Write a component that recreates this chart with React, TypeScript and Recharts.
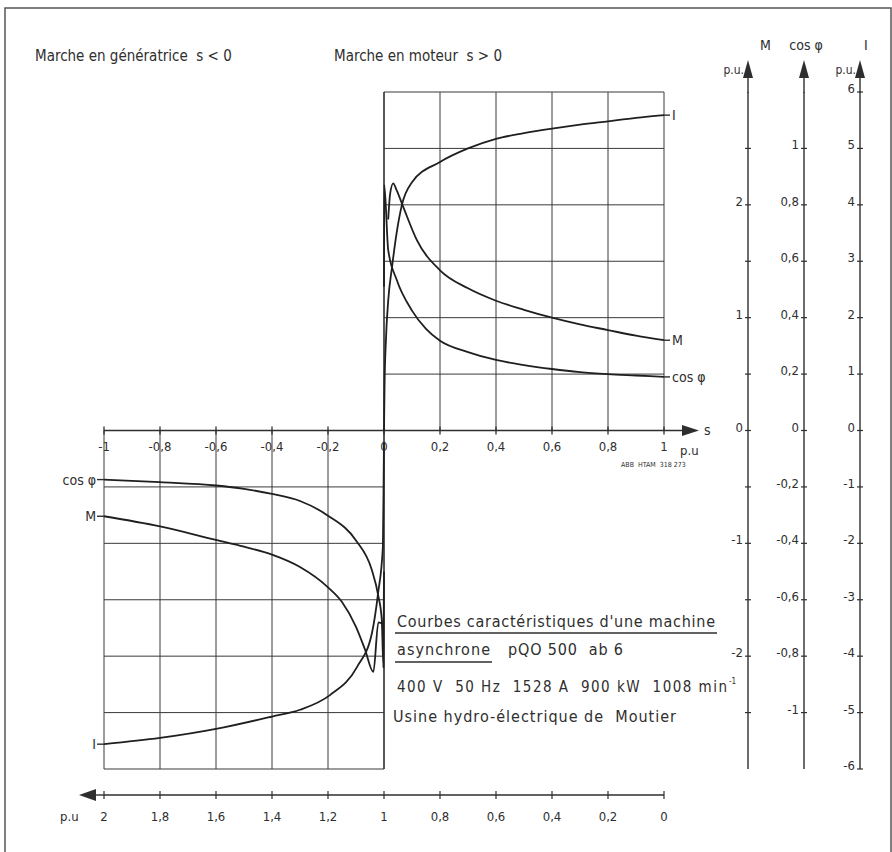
import React from "react";
import { LineChart, Line, XAxis, YAxis, ReferenceLine } from "recharts";

const FONT = "DejaVu Sans Condensed, Liberation Sans Narrow, DejaVu Sans, sans-serif";
const INK = "#2e2e2e";

// tick values
const sTicks = [-1, -0.8, -0.6, -0.4, -0.2, 0, 0.2, 0.4, 0.6, 0.8, 1];
const mTicks = [2.5, 2, 1.5, 1, 0.5, 0, -0.5, -1, -1.5, -2, -2.5];
const cosTicks = [1, 0.8, 0.6, 0.4, 0.2, 0, -0.2, -0.4, -0.6, -0.8, -1];
const iTicks = [6, 5, 4, 3, 2, 1, 0, -1, -2, -3, -4, -5, -6];

// grid
const upperCols = [0.2, 0.4, 0.6, 0.8, 1];
const lowerCols = [-1, -0.8, -0.6, -0.4, -0.2];
const upperRows = [1, 2, 3, 4, 5, 6];
const lowerRows = [-1, -2, -3, -4, -5, -6];

// moteur, s > 0   [s, value]
const motorI = [
  [0, 0], [0.002, 0.8], [0.007, 1.62], [0.015, 2.3], [0.029, 2.91], [0.045, 3.5],
  [0.064, 4.0], [0.1, 4.4], [0.2, 4.76], [0.3, 5.0], [0.4, 5.17], [0.5, 5.27],
  [0.6, 5.35], [0.7, 5.42], [0.8, 5.48], [0.9, 5.54], [1, 5.59],
];
const motorM = [
  [0.015, 1.87], [0.022, 2.1], [0.033, 2.19], [0.045, 2.13], [0.069, 1.98],
  [0.117, 1.69], [0.2, 1.42], [0.3, 1.26], [0.4, 1.15], [0.5, 1.07], [0.6, 1.0],
  [0.7, 0.94], [0.8, 0.89], [0.9, 0.84], [1, 0.8],
];
const motorCos = [
  [0, 0.51], [0.001, 0.87], [0.015, 0.64], [0.045, 0.535], [0.1, 0.425], [0.15, 0.36],
  [0.2, 0.318], [0.3, 0.278], [0.4, 0.25], [0.5, 0.232], [0.6, 0.218], [0.7, 0.207],
  [0.8, 0.2], [0.9, 0.195], [1, 0.19],
];

// génératrice, s < 0
const genCos = [
  [-1, -0.174], [-0.8, -0.183], [-0.6, -0.195], [-0.5, -0.207], [-0.4, -0.225],
  [-0.3, -0.25], [-0.2, -0.302], [-0.1, -0.39], [-0.044, -0.493], [-0.02, -0.588],
  [-0.008, -0.67], [-0.002, -0.84], [0, -0.5],
];
const genM = [
  [-1, -0.76], [-0.8, -0.85], [-0.6, -0.97], [-0.5, -1.03], [-0.4, -1.1], [-0.3, -1.21],
  [-0.2, -1.39], [-0.15, -1.52], [-0.1, -1.74], [-0.068, -1.94], [-0.038, -2.14],
  [-0.02, -1.7], [-0.008, -1.71],
];
const genI = [
  [-1, -5.56], [-0.8, -5.45], [-0.6, -5.29], [-0.4, -5.07], [-0.3, -4.95], [-0.193, -4.69],
  [-0.096, -4.19], [-0.043, -3.59], [-0.021, -2.88], [-0.004, -2.06], [-0.001, -0.7], [0, -0.2],
];

const toRows = (arr: number[][]) => arr.map(([s, v]) => ({ s, v }));

const fmt = (v: number) => String(Math.round(v * 100) / 100).replace(".", ",");

function RightTick(props: any) {
  const { x, y, payload, show } = props;
  const v = payload.value;
  return (
    <g>
      <line x1={x - 3} x2={x + 3} y1={y} y2={y} stroke={INK} strokeWidth={1.2} />
      {show(v) && (
        <text x={x - 5} y={y + 1} textAnchor="end" fontSize={13} fontFamily={FONT} fill={INK}>
          {fmt(v)}
        </text>
      )}
    </g>
  );
}

function SpeedTick(props: any) {
  const { x, y, payload } = props;
  return (
    <g>
      <line x1={x} x2={x} y1={y - 4} y2={y + 4} stroke={INK} strokeWidth={1.2} />
      <text x={x} y={y + 26} textAnchor="middle" fontSize={13} fontFamily={FONT} fill={INK}>
        {fmt(1 - payload.value)}
      </text>
    </g>
  );
}

const curveLabel = (text: string, at: number, side: "left" | "right") => (p: any) => {
  if (p.index !== at) return <g />;
  const { x, y } = p;
  if (side === "right") {
    return (
      <g>
        <line x1={x} x2={x + 6} y1={y} y2={y} stroke={INK} strokeWidth={1.4} />
        <text x={x + 8} y={y + 5} fontSize={14} fontFamily={FONT} fill={INK}>{text}</text>
      </g>
    );
  }
  return (
    <g>
      <line x1={x - 7} x2={x} y1={y} y2={y} stroke={INK} strokeWidth={1.4} />
      <text x={x - 8} y={y + 5} textAnchor="end" fontSize={14} fontFamily={FONT} fill={INK}>{text}</text>
    </g>
  );
};

const gridStyle = { stroke: "#3a3a3a", strokeWidth: 1 };
const lineStyle = { stroke: "#1f1f1f", strokeWidth: 1.8, dot: false, isAnimationActive: false, xAxisId: "s", type: "monotone" as const };

export default function App() {
  const mI = toRows(motorI), mM = toRows(motorM), mC = toRows(motorCos);
  const gC = toRows(genCos), gM = toRows(genM), gI = toRows(genI);
  const txt = { fontFamily: FONT, fill: INK } as const;
  const arrowUp = (x: number) => `${x - 5},78 ${x},60 ${x + 5},78`;

  // y axis ids are sorted by name when stacked on the right: a (spacer), b, c, d
  return (
    <div style={{ position: "absolute", left: 0, top: 0, width: 892, height: 852, background: "#fff" }}>
      <LineChart width={892} height={852} margin={{ top: 92, right: 0, bottom: 0, left: 104 }}>
        <XAxis xAxisId="pad" type="number" domain={[0, 1]} height={26} axisLine={false} tick={false} tickLine={false} />
        <XAxis
          xAxisId="s"
          dataKey="s"
          type="number"
          domain={[-1, 1]}
          ticks={sTicks}
          interval={0}
          height={57}
          tickSize={0}
          tickMargin={0}
          tickLine={false}
          axisLine={{ stroke: INK, strokeWidth: 1.4 }}
          tick={<SpeedTick />}
        />
        <YAxis yAxisId="a_pad" orientation="right" type="number" domain={[0, 1]} width={84} axisLine={false} tick={false} tickLine={false} />
        <YAxis
          yAxisId="b_M"
          orientation="right"
          type="number"
          domain={[-3, 3]}
          ticks={mTicks}
          interval={0}
          width={56}
          tickSize={0}
          tickMargin={0}
          tickLine={false}
          axisLine={{ stroke: INK, strokeWidth: 1.4 }}
          tick={(p: any) => <RightTick {...p} show={(v: number) => Number.isInteger(v)} />}
        />
        <YAxis
          yAxisId="c_cos"
          orientation="right"
          type="number"
          domain={[-1.2, 1.2]}
          ticks={cosTicks}
          interval={0}
          width={56}
          tickSize={0}
          tickMargin={0}
          tickLine={false}
          axisLine={{ stroke: INK, strokeWidth: 1.4 }}
          tick={(p: any) => <RightTick {...p} show={() => true} />}
        />
        <YAxis
          yAxisId="d_I"
          orientation="right"
          type="number"
          domain={[-6, 6]}
          ticks={iTicks}
          interval={0}
          width={32}
          tickSize={0}
          tickMargin={0}
          tickLine={false}
          axisLine={{ stroke: INK, strokeWidth: 1.4 }}
          tick={(p: any) => <RightTick {...p} show={() => true} />}
        />

        {upperCols.map((s) => (
          <ReferenceLine key={`uc${s}`} xAxisId="s" yAxisId="d_I" segment={[{ x: s, y: 0 }, { x: s, y: 6 }]} {...gridStyle} />
        ))}
        {upperRows.map((v) => (
          <ReferenceLine key={`ur${v}`} xAxisId="s" yAxisId="d_I" segment={[{ x: 0, y: v }, { x: 1, y: v }]} {...gridStyle} />
        ))}
        {lowerCols.map((s) => (
          <ReferenceLine key={`lc${s}`} xAxisId="s" yAxisId="d_I" segment={[{ x: s, y: -6 }, { x: s, y: 0 }]} {...gridStyle} />
        ))}
        {lowerRows.map((v) => (
          <ReferenceLine key={`lr${v}`} xAxisId="s" yAxisId="d_I" segment={[{ x: -1, y: v }, { x: 0, y: v }]} {...gridStyle} />
        ))}
        <ReferenceLine xAxisId="s" yAxisId="d_I" segment={[{ x: 0, y: -6 }, { x: 0, y: 6 }]} stroke={INK} strokeWidth={1.6} />
        <ReferenceLine xAxisId="s" yAxisId="d_I" y={0} stroke={INK} strokeWidth={1.5} />
        {sTicks.map((s) => (
          <ReferenceLine
            key={`st${s}`}
            xAxisId="s"
            yAxisId="d_I"
            segment={[{ x: s, y: -0.07 }, { x: s, y: 0.07 }]}
            stroke={INK}
            strokeWidth={1.3}
            label={{ value: fmt(s), position: "bottom", offset: 7, fontSize: 13, fontFamily: FONT, fill: INK }}
          />
        ))}

        <Line {...lineStyle} data={mI} dataKey="v" yAxisId="d_I" label={curveLabel("I", mI.length - 1, "right")} />
        <Line {...lineStyle} data={mM} dataKey="v" yAxisId="b_M" label={curveLabel("M", mM.length - 1, "right")} />
        <Line {...lineStyle} data={mC} dataKey="v" yAxisId="c_cos" label={curveLabel("cos φ", mC.length - 1, "right")} />
        <Line {...lineStyle} data={gC} dataKey="v" yAxisId="c_cos" label={curveLabel("cos φ", 0, "left")} />
        <Line {...lineStyle} data={gM} dataKey="v" yAxisId="b_M" label={curveLabel("M", 0, "left")} />
        <Line {...lineStyle} data={gI} dataKey="v" yAxisId="d_I" label={curveLabel("I", 0, "left")} />
      </LineChart>

      <svg width={892} height={852} style={{ position: "absolute", left: 0, top: 0, pointerEvents: "none" }}>
        <rect x={5} y={8} width={886} height={870} fill="none" stroke="#555" strokeWidth={1.5} />

        <text x={35} y={61} fontSize={15} {...txt} style={{ whiteSpace: "pre" }}>Marche en génératrice  s &lt; 0</text>
        <text x={334} y={61} fontSize={15} {...txt} style={{ whiteSpace: "pre" }}>Marche en moteur  s &gt; 0</text>

        {/* right axes: arrows and titles */}
        {[748, 804, 860].map((x) => (
          <g key={x}>
            <line x1={x} x2={x} y1={76} y2={93} stroke={INK} strokeWidth={1.4} />
            <polygon points={arrowUp(x)} fill={INK} />
          </g>
        ))}
        <text x={760} y={50} fontSize={14} {...txt}>M</text>
        <text x={744} y={74} fontSize={12} textAnchor="end" {...txt}>p.u.</text>
        <text x={806} y={50} fontSize={14} textAnchor="middle" {...txt}>cos φ</text>
        <text x={864} y={50} fontSize={14} {...txt}>I</text>
        <text x={856} y={74} fontSize={12} textAnchor="end" {...txt}>p.u.</text>

        {/* s axis arrow */}
        <line x1={664} x2={684} y1={430.5} y2={430.5} stroke={INK} strokeWidth={1.5} />
        <polygon points="682,425 699,430.5 682,436" fill={INK} />
        <text x={704} y={435} fontSize={14} {...txt}>s</text>
        <text x={680} y={455} fontSize={13} {...txt}>p.u</text>
        <text x={621} y={467} fontSize={7} {...txt} style={{ whiteSpace: "pre" }}>ABB  HTAM  318 273</text>

        {/* speed axis arrow */}
        <line x1={92} x2={104} y1={795} y2={795} stroke={INK} strokeWidth={1.4} />
        <polygon points="96,789 79,795 96,801" fill={INK} />
        <text x={60} y={821} fontSize={13} {...txt}>p.u</text>

        {/* title block */}
        <text x={397} y={627} fontSize={16} textLength={318} lengthAdjust="spacing" {...txt}>Courbes caractéristiques d'une machine</text>
        <line x1={395} x2={717} y1={633} y2={633} stroke={INK} strokeWidth={1.3} />
        <text x={397} y={655} fontSize={16} textLength={93} lengthAdjust="spacing" {...txt}>asynchrone</text>
        <line x1={395} x2={492} y1={662} y2={662} stroke={INK} strokeWidth={1.3} />
        <text x={508} y={655} fontSize={16} textLength={115} lengthAdjust="spacing" {...txt} style={{ whiteSpace: "pre" }}>pQO 500  ab 6</text>
        <text x={397} y={692} fontSize={15} textLength={330} lengthAdjust="spacing" {...txt} style={{ whiteSpace: "pre" }}>400 V  50 Hz  1528 A  900 kW  1008 min</text>
        <text x={729} y={684} fontSize={8} {...txt}>-1</text>
        <text x={393} y={722} fontSize={16} textLength={283} lengthAdjust="spacing" {...txt} style={{ whiteSpace: "pre" }}>Usine hydro-électrique de  Moutier</text>
      </svg>
    </div>
  );
}
